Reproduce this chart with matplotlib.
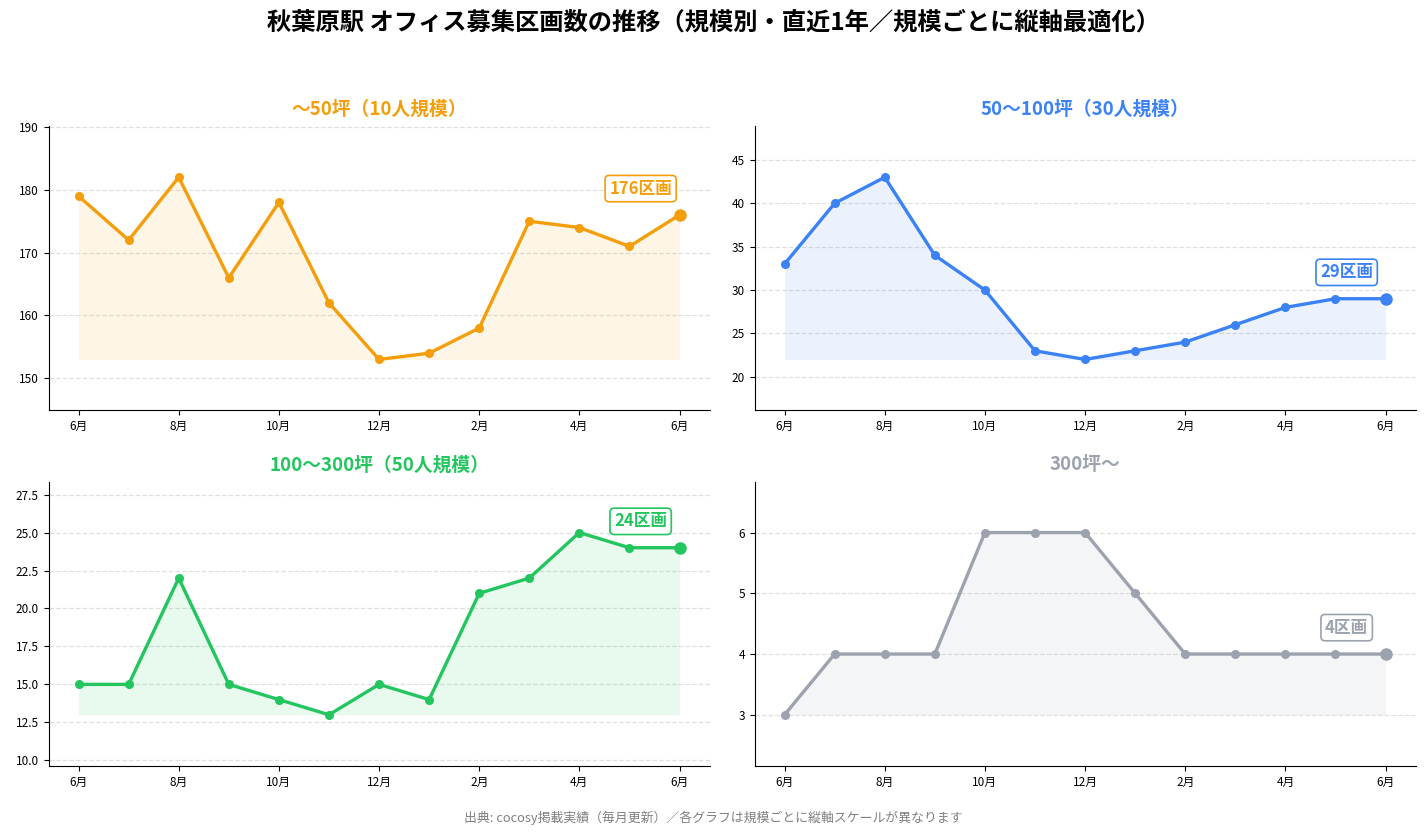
import matplotlib.pyplot as plt

plt.rcParams['font.family'] = ['Noto Sans CJK JP', 'DejaVu Sans']

months = ['6月', '7月', '8月', '9月', '10月', '11月', '12月', '1月', '2月', '3月', '4月', '5月', '6月']

titles = ['〜50坪（10人規模）', '50〜100坪（30人規模）', '100〜300坪（50人規模）', '300坪〜']
colors = ['#f59e0b', '#3b82f6', '#22c55e', '#9ca3af']

small = [179, 172, 182, 166, 178, 162, 153, 154, 158, 175, 174, 171, 176]
mid = [33, 40, 43, 34, 30, 23, 22, 23, 24, 26, 28, 29, 29]
large = [15, 15, 22, 15, 14, 13, 15, 14, 21, 22, 25, 24, 24]
xlarge = [3, 4, 4, 4, 6, 6, 6, 5, 4, 4, 4, 4, 4]

series = [small, mid, large, xlarge]

fig, axes = plt.subplots(2, 2, figsize=(14.27, 8.36), dpi=100)
fig.subplots_adjust(left=0.034, right=0.992, top=0.849, bottom=0.084,
                    wspace=0.068, hspace=0.25)

x = list(range(len(months)))

for ax, vals, title, c in zip(axes.flat, series, titles, colors):
    lo, hi = min(vals), max(vals)
    pad = (hi - lo) * 0.28
    ax.fill_between(x, lo, vals, color=c, alpha=0.1, linewidth=0)
    ax.plot(x, vals, color=c, linewidth=2.4, marker='o', markersize=5.5, zorder=3)
    ax.plot(x[-1], vals[-1], 'o', color=c, markersize=8, zorder=4)
    ax.annotate(f'{vals[-1]}区画', xy=(x[-1], vals[-1]), xytext=(-28, 19),
                textcoords='offset points', ha='center', va='center',
                fontsize=12, fontweight='bold', color=c,
                bbox=dict(boxstyle='round,pad=0.25', fc='white', ec=c, lw=1.2))
    ax.set_ylim(lo - pad, hi + pad)
    ax.set_xlim(-0.6, len(x) - 0.4)
    ax.set_xticks(x[::2])
    ax.set_xticklabels(months[::2])
    ax.set_title(title, color=c, fontsize=13.5, fontweight='bold', pad=8)
    ax.grid(axis='y', linestyle='--', color='#e0e0e0', linewidth=0.9)
    ax.set_axisbelow(True)
    ax.spines['top'].set_visible(False)
    ax.spines['right'].set_visible(False)
    ax.tick_params(labelsize=8.5)

fig.suptitle('秋葉原駅 オフィス募集区画数の推移（規模別・直近1年／規模ごとに縦軸最適化）',
             fontsize=17.5, fontweight='bold', y=0.988)
fig.text(0.5, 0.022, '出典: cocosy掲載実績（毎月更新）／各グラフは規模ごとに縦軸スケールが異なります',
         ha='center', va='center', fontsize=9.3, color='#808080')

fig.savefig('out.png', dpi=100)
